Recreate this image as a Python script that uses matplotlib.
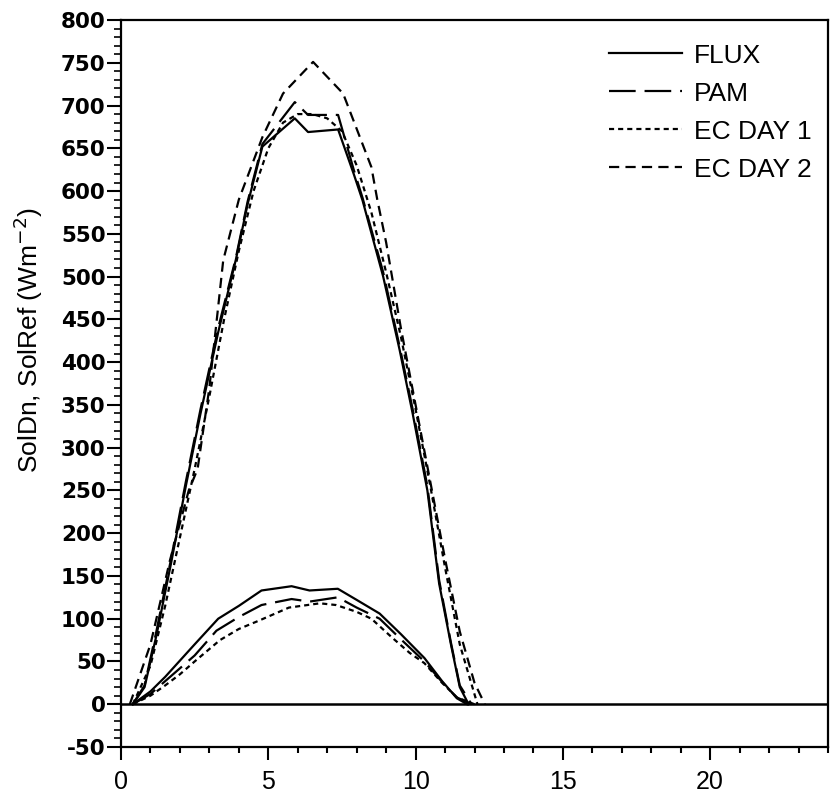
import matplotlib
matplotlib.use("Agg")
import matplotlib.pyplot as plt
from matplotlib.ticker import MultipleLocator

plt.rcParams['font.family'] = ['Liberation Sans', 'DejaVu Sans']
plt.rcParams['axes.unicode_minus'] = False

# ---- data (hours, W m-2) ----
flux_dn_x = [0.4, 0.8, 1.2, 1.7, 2.2, 2.7, 3.3, 3.9, 4.3, 4.8, 5.9, 6.35, 7.37, 7.9, 8.2, 8.9, 9.46, 9.9, 10.4, 10.8, 11.2, 11.5, 11.8]
flux_dn_y = [0, 20, 80, 165, 255, 340, 435, 520, 585, 652, 685, 669, 672, 620, 589, 500, 414, 340, 250, 141, 70, 20, 0]

pam_dn_x = [0.4, 0.8, 1.2, 1.7, 2.2, 2.7, 3.3, 3.9, 4.3, 4.8, 5.9, 6.35, 7.37, 7.9, 8.2, 8.9, 9.46, 9.9, 10.4, 10.8, 11.2, 11.5, 11.9]
pam_dn_y = [0, 22, 85, 170, 260, 345, 440, 522, 588, 655, 704, 689, 689, 625, 592, 505, 418, 345, 255, 145, 72, 22, 0]

ec1_dn_x = [0.4, 1.0, 1.5, 2.0, 2.5, 3.0, 3.5, 4.0, 4.5, 5.0, 5.5, 6.0, 6.5, 7.0, 7.5, 8.0, 8.5, 9.0, 9.5, 10.0, 10.5, 11.0, 11.5, 12.1]
ec1_dn_y = [0, 45, 115, 195, 275, 360, 450, 530, 600, 650, 680, 690, 690, 685, 670, 630, 575, 505, 430, 345, 255, 160, 70, 0]

ec2_dn_x = [0.3, 1.0, 1.66, 2.3, 2.6, 3.0, 3.47, 4.0, 4.8, 5.5, 6.52, 7.54, 8.5, 8.7, 9.0, 9.5, 10.0, 10.5, 11.0, 11.5, 12.0, 12.35]
ec2_dn_y = [0, 70, 168, 250, 275, 370, 519, 590, 663, 714, 751, 714, 628, 590, 540, 440, 350, 260, 170, 85, 25, 0]

flux_ref_x = [0.4, 1.0, 1.5, 2.0, 2.5, 3.3, 4.0, 4.77, 5.79, 6.4, 7.36, 8.0, 8.78, 9.5, 10.3, 10.9, 11.4, 11.75]
flux_ref_y = [0, 15, 32, 51, 70, 100, 115, 133, 138, 133, 135, 122, 106, 82, 54, 27, 7, 0]

pam_ref_x = [0.4, 1.0, 1.5, 2.0, 2.5, 3.24, 4.0, 4.77, 5.79, 6.4, 7.36, 8.0, 8.78, 9.5, 10.3, 10.9, 11.4, 11.9]
pam_ref_y = [0, 12, 27, 42, 57, 86, 102, 116, 123, 120, 125, 113, 100, 76, 50, 26, 8, 0]

ec1_ref_x = [0.4, 1.0, 1.5, 2.0, 2.5, 3.36, 4.0, 4.7, 5.7, 6.75, 7.3, 8.0, 8.5, 9.2, 9.8, 10.3, 10.9, 11.4, 12.0]
ec1_ref_y = [0, 10, 22, 35, 50, 75, 88, 98, 113, 118, 116, 108, 100, 78, 60, 48, 25, 8, 0]

labels = ["FLUX", "PAM", "EC DAY 1", "EC DAY 2"]
x_ticks = [0, 5, 10, 15, 20]
y_ticks = [-50, 0, 50, 100, 150, 200, 250, 300, 350, 400, 450, 500, 550, 600, 650, 700, 750, 800]

# ---- styles ----
lw = 1.6
styles = {
    "FLUX": dict(linestyle="-"),
    "PAM": dict(linestyle=(0, (12, 4))),
    "EC DAY 1": dict(linestyle=(0, (2.3, 1.8))),
    "EC DAY 2": dict(linestyle=(0, (4.6, 2.8))),
}

fig = plt.figure(figsize=(8.35, 8.0), dpi=100)
ax = fig.add_axes([121/835, 1-747/800, (828-121)/835, (747-20)/800])

ax.axhline(0, color="black", lw=1.8, zorder=1)

ax.plot(flux_dn_x, flux_dn_y, color="black", lw=lw, label=labels[0], **styles["FLUX"])
ax.plot(pam_dn_x, pam_dn_y, color="black", lw=lw, label=labels[1], **styles["PAM"])
ax.plot(ec1_dn_x, ec1_dn_y, color="black", lw=lw, label=labels[2], **styles["EC DAY 1"])
ax.plot(ec2_dn_x, ec2_dn_y, color="black", lw=lw, label=labels[3], **styles["EC DAY 2"])

ax.plot(flux_ref_x, flux_ref_y, color="black", lw=lw, **styles["FLUX"])
ax.plot(pam_ref_x, pam_ref_y, color="black", lw=lw, **styles["PAM"])
ax.plot(ec1_ref_x, ec1_ref_y, color="black", lw=lw, **styles["EC DAY 1"])

ax.set_xlim(0, 24)
ax.set_ylim(-50, 800)
ax.set_xticks(x_ticks)
ax.set_yticks(y_ticks)
ax.xaxis.set_minor_locator(MultipleLocator(1))
ax.yaxis.set_minor_locator(MultipleLocator(10))

ax.tick_params(axis="x", which="major", direction="out", length=9.5, width=1.5, labelsize=18, pad=7)
ax.tick_params(axis="x", which="minor", direction="out", length=4.5, width=1.5)
ax.tick_params(axis="y", which="major", direction="out", length=10, width=1.5, pad=1)
ax.tick_params(axis="y", which="minor", direction="out", length=5, width=1.2)
for lab in ax.get_yticklabels():
    lab.set_fontfamily("DejaVu Sans")
    lab.set_fontweight("bold")
    lab.set_fontsize(15.5)

for s in ax.spines.values():
    s.set_linewidth(1.6)

ax.set_ylabel("SolDn, SolRef (Wm$^{-2}$)", fontsize=19)
ax.yaxis.set_label_coords(-0.108, 0.56)

leg = ax.legend(loc="upper right", frameon=False, fontsize=19, handlelength=2.77,
                handletextpad=0.45, labelspacing=0.53, borderaxespad=0,
                bbox_to_anchor=(0.992, 0.982))

fig.savefig("out.png", dpi=100)
